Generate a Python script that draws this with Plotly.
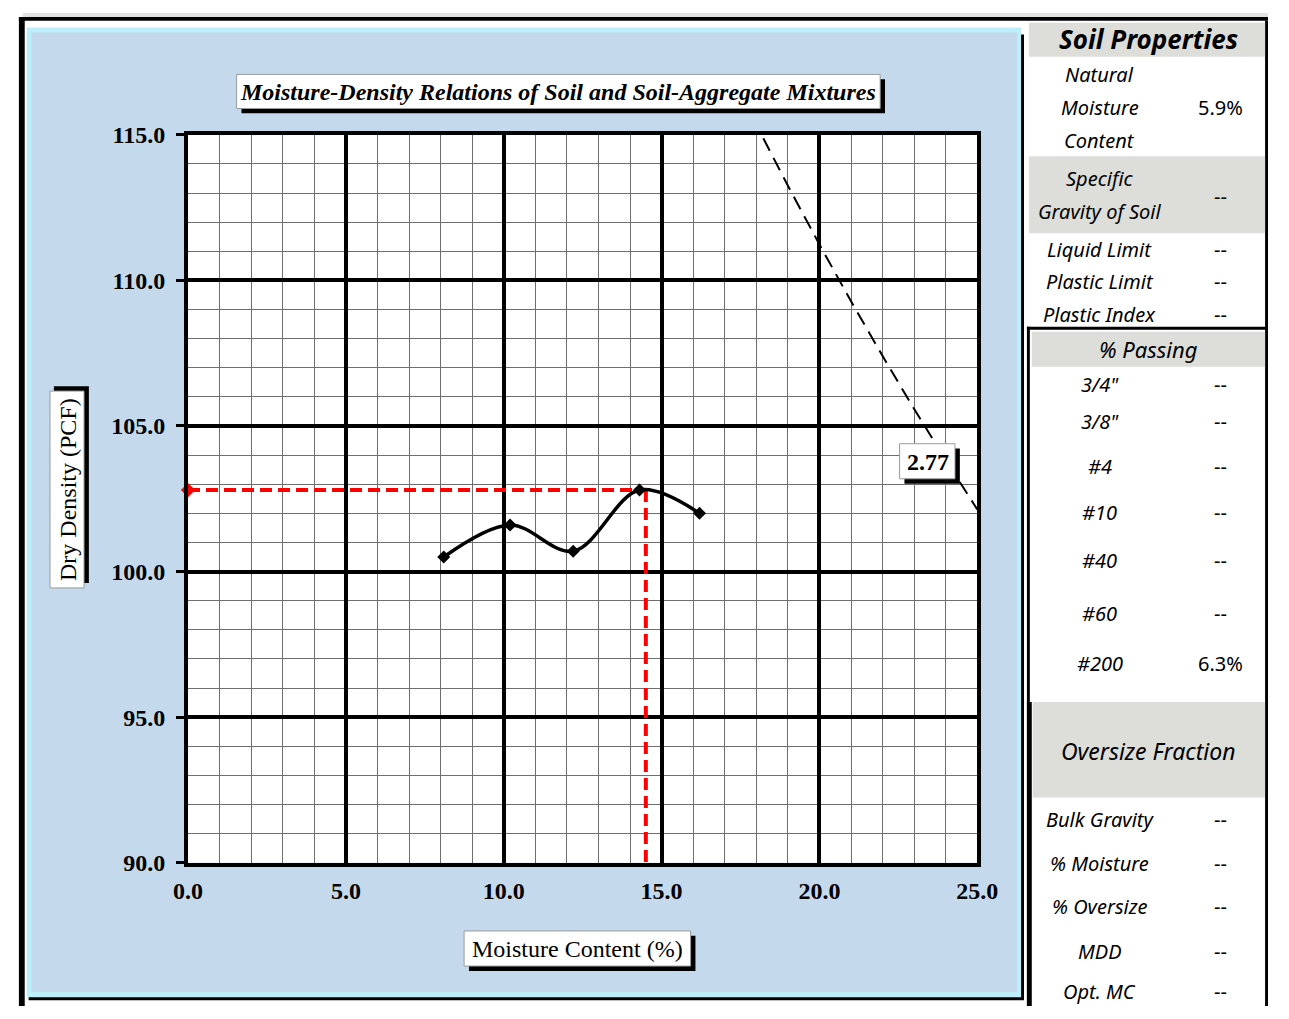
import plotly.graph_objects as go

W, H = 1289, 1019

# ---------------- data ----------------
moisture = [8.1, 10.2, 12.2, 14.3, 16.2]
dry_density = [100.5, 101.6, 100.7, 102.8, 102.0]
opt_mc = 14.5
mdd = 102.8
zav_moisture = [17.9, 19.0, 20.0, 21.0, 22.0, 23.0, 24.0, 25.0]
zav_density = [115.55, 113.25, 111.23, 109.28, 107.40, 105.58, 103.83, 102.13]
zav_label = "2.77"

x_range = [0, 25]
y_range = [90, 115]

soil_labels = ["Natural", "Moisture", "Content", "Specific", "Gravity of Soil",
               "Liquid Limit", "Plastic Limit", "Plastic Index"]
soil_label_y = [63, 97, 131, 170, 204, 243, 276, 309]
soil_values = ["5.9%", "--", "--", "--", "--"]
soil_value_y = [97, 188, 243, 276, 309]

passing_labels = ['3/4"', '3/8"', "#4", "#10", "#40", "#60", "#200"]
passing_values = ["--", "--", "--", "--", "--", "--", "6.3%"]
passing_y = [381, 419, 465, 513, 562, 616, 668]

oversize_labels = ["Bulk Gravity", "% Moisture", "% Oversize", "MDD", "Opt. MC"]
oversize_values = ["--", "--", "--", "--", "--"]
oversize_y = [828, 873, 917, 963, 1004]


def px(x):
    return x / W


def py(y):
    return 1 - y / H


shapes = []


def rect(x0, y0, x1, y1, fill, layer="below", line_color=None, line_width=0):
    shapes.append(dict(type="rect", xref="paper", yref="paper",
                       x0=px(x0), x1=px(x1), y0=py(y1), y1=py(y0),
                       fillcolor=fill, layer=layer,
                       line=dict(color=line_color or fill, width=line_width)))


BLUE = "#C5D9EC"
CYAN = "#BDEFFB"
GRAY = "#DDDDD9"

# frame
rect(8, 0, 1289, 4, "#E2E2DE")
rect(4, 4, 1289, 8, "black")
rect(4, 4, 10, 1019, "black")
rect(1286, 8, 1289, 1019, "black")

# chart panel
rect(14, 22, 1038, 1013, "black")
rect(12, 15, 1035, 1010, CYAN)
rect(17, 20, 1031, 1005, BLUE)
# plot area white
rect(178, 125, 990, 872, "white")

# right panel
rect(1043, 10, 1286, 45, GRAY)
rect(1043, 147, 1286, 226, GRAY)
rect(1041, 322, 1289, 325, "black")
rect(1041, 322, 1044, 1019, "black")
rect(1041, 707, 1046, 1019, "black")
rect(1046, 327, 1286, 363, GRAY)
rect(1047, 707, 1286, 805, GRAY)

# title box
rect(233, 68, 895, 103, "black")
rect(228, 63, 890, 98, "white", line_color="#9A9A9A", line_width=1)
# y title box
rect(40, 383, 76, 585, "black")
rect(36, 388, 71, 590, "white", line_color="#9A9A9A", line_width=1)
# x title box
rect(467, 947, 700, 983, "black")
rect(462, 942, 695, 978, "white", line_color="#9A9A9A", line_width=1)
# 2.77 box (above grid)
rect(915, 447, 972, 483, "black", layer="above")
rect(910, 442, 967, 478, "white", layer="above", line_color="#9A9A9A", line_width=1)

annotations = []


def text(x, y, s, family, size, bold=False, italic=False, angle=0):
    font = dict(family=family, size=size, color="black")
    if bold:
        font["weight"] = "bold"
    if italic:
        font["style"] = "italic"
    annotations.append(dict(x=px(x), y=py(y), xref="paper", yref="paper",
                            text=s, showarrow=False, font=font,
                            xanchor="center", yanchor="middle", textangle=angle))


SERIF = "Liberation Serif"
SANS = "Noto Sans"

text(559, 81, "Moisture-Density Relations of Soil and Soil-Aggregate Mixtures",
     SERIF, 24, bold=True, italic=True)
text(54, 489, "Dry Density (PCF)", SERIF, 24, angle=-90)
text(579, 961, "Moisture Content (%)", SERIF, 24)
text(939, 461, zav_label, SERIF, 24, bold=True)

text(1166, 27, "Soil Properties", SANS, 26, bold=True, italic=True)
for s, yy in zip(soil_labels, soil_label_y):
    text(1116, yy, s, SANS, 20, italic=True)
for s, yy in zip(soil_values, soil_value_y):
    text(1240, yy, s, SANS, 20)
text(1166, 345, "% Passing", SANS, 22, italic=True)
for s, v, yy in zip(passing_labels, passing_values, passing_y):
    text(1116, yy, s, SANS, 20, italic=True)
    text(1240, yy, v, SANS, 20)
text(1166, 757, "Oversize Fraction", SANS, 23, italic=True)
for s, v, yy in zip(oversize_labels, oversize_values, oversize_y):
    text(1116, yy, s, SANS, 20, italic=True)
    text(1240, yy, v, SANS, 20)

fig = go.Figure()

# zero air voids line
fig.add_trace(go.Scatter(x=zav_moisture, y=zav_density, mode="lines",
                         line=dict(color="black", width=2, dash="14px,8px"),
                         hoverinfo="skip"))
# optimum lines
fig.add_trace(go.Scatter(x=[x_range[0], opt_mc], y=[mdd, mdd], mode="lines",
                         line=dict(color="#FF0000", width=4, dash="12px,6px")))
fig.add_trace(go.Scatter(x=[opt_mc, opt_mc], y=[mdd, y_range[0]], mode="lines",
                         line=dict(color="#FF0000", width=4, dash="12px,6px")))
fig.add_trace(go.Scatter(x=[x_range[0]], y=[mdd], mode="markers",
                         marker=dict(symbol="diamond", color="#FF0000", size=11),
                         cliponaxis=False))
# compaction curve
fig.add_trace(go.Scatter(x=moisture, y=dry_density, mode="lines+markers",
                         line=dict(color="black", width=3.5, shape="spline", smoothing=1),
                         marker=dict(symbol="diamond", color="black", size=10)))

fig.update_layout(
    width=W, height=H,
    margin=dict(l=0, r=0, t=0, b=0),
    paper_bgcolor="white", plot_bgcolor="white",
    showlegend=False,
    shapes=shapes, annotations=annotations,
    xaxis=dict(domain=[px(178), px(990)], range=x_range, dtick=5, tick0=0,
               tickformat=".1f", showgrid=True, gridcolor="black", gridwidth=3.5,
               minor=dict(dtick=1, showgrid=True, gridcolor="#6E6E6E", gridwidth=1),
               showline=True, linecolor="black", linewidth=4, mirror=True,
               zeroline=False, ticks="", ticklabelstandoff=3,
               tickfont=dict(family=SERIF, size=24, color="black", weight="bold")),
    yaxis=dict(domain=[py(872), py(125)], range=y_range, dtick=5, tick0=90,
               tickformat=".1f", showgrid=True, gridcolor="black", gridwidth=3.5,
               minor=dict(dtick=1, showgrid=True, gridcolor="#6E6E6E", gridwidth=1),
               showline=True, linecolor="black", linewidth=4, mirror=True,
               zeroline=False, ticks="outside", ticklen=8, tickwidth=3,
               tickcolor="black", ticklabelstandoff=6,
               tickfont=dict(family=SERIF, size=24, color="black", weight="bold")),
)

fig.write_html("out.html",
               post_script="document.body.style.margin='0';"
                           "document.documentElement.style.overflow='hidden';")
